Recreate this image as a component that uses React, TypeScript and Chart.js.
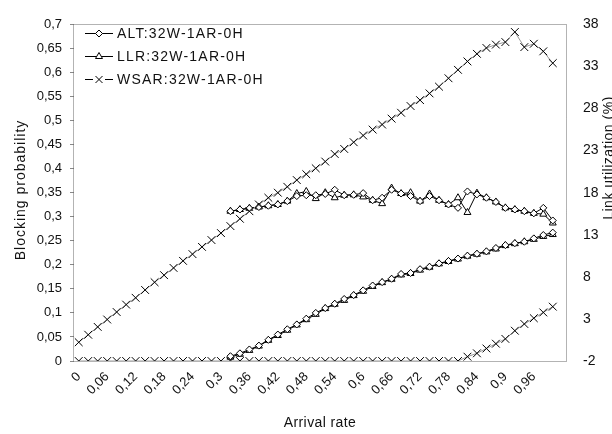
import React, { useEffect, useRef } from 'react';
import { Chart, registerables } from 'chart.js';

Chart.register(...registerables);

const categories = ['0','0,02','0,04','0,06','0,08','0,1','0,12','0,14','0,16','0,18','0,2','0,22','0,24','0,26','0,28','0,3','0,32','0,34','0,36','0,38','0,4','0,42','0,44','0,46','0,48','0,5','0,52','0,54','0,56','0,58','0,6','0,62','0,64','0,66','0,68','0,7','0,72','0,74','0,76','0,78','0,8','0,82','0,84','0,86','0,88','0,9','0,92','0,94','0,96','0,98','1',''];

const N16 = [null,null,null,null,null,null,null,null,null,null,null,null,null,null,null,null];

const altBlocking = [...N16, 0.010,0.016,0.024,0.032,0.044,0.055,0.066,0.076,0.088,0.100,0.110,0.119,0.129,0.137,0.147,0.157,0.164,0.171,0.181,0.183,0.191,0.196,0.203,0.208,0.213,0.219,0.223,0.228,0.235,0.241,0.245,0.248,0.255,0.262,0.267];
const llrBlocking = [...N16, 0.008,0.014,0.022,0.031,0.043,0.053,0.064,0.075,0.086,0.097,0.109,0.118,0.126,0.136,0.145,0.155,0.163,0.170,0.179,0.182,0.189,0.195,0.202,0.207,0.212,0.218,0.222,0.227,0.233,0.240,0.244,0.248,0.253,0.259,0.263];
const wsarBlocking = [0,0,0,0,0,0,0,0,0,0,0,0,0,0,0,0,0,0,0,0,0,0,0,0,0,0,0,0,0,0,0,0,0,0,0,0,0,0,0,0,0,0.009,0.016,0.026,0.036,0.046,0.063,0.077,0.089,0.101,0.113];

const altUtil = [...N16, 15.8,16.0,16.15,16.3,16.45,16.6,17.0,17.6,17.7,17.7,17.85,18.35,17.7,17.75,17.95,17.1,17.4,18.35,17.9,17.6,17.0,17.6,17.1,16.6,16.2,18.15,17.8,17.4,16.9,16.2,16.0,15.8,15.55,16.2,14.7];
const llrUtil = [...N16, 15.8,16.0,16.15,16.3,16.45,16.6,17.0,17.9,18.15,17.3,18.0,17.4,17.7,17.75,17.5,17.1,16.7,18.55,17.9,18.0,17.0,17.85,17.1,16.6,17.4,15.65,17.95,17.4,16.9,16.2,16.0,15.8,15.55,15.45,14.4];
const wsarUtil = [0.23,1.12,2.05,2.93,3.82,4.7,5.51,6.44,7.36,8.2,9.06,9.9,10.7,11.56,12.37,13.2,14.03,14.9,15.8,16.6,17.4,18.0,18.7,19.5,20.2,20.9,21.7,22.6,23.2,24.0,24.8,25.5,26.1,26.8,27.5,28.3,29.0,29.8,30.6,31.6,32.6,33.6,34.5,35.2,35.6,35.9,37.1,35.3,35.7,34.8,33.4];

const legendLabels = ['ALT:32W-1AR-0H', 'LLR:32W-1AR-0H', 'WSAR:32W-1AR-0H'];

const FONT = '"Liberation Sans", Arial, sans-serif';

function marker(ctx: CanvasRenderingContext2D, kind: string, x: number, y: number) {
  ctx.beginPath();
  if (kind === 'diamond') {
    ctx.moveTo(x, y - 3.5); ctx.lineTo(x + 3.5, y); ctx.lineTo(x, y + 3.5); ctx.lineTo(x - 3.5, y); ctx.closePath();
    ctx.fillStyle = '#fff'; ctx.fill(); ctx.stroke();
  } else if (kind === 'triangle') {
    ctx.moveTo(x, y - 4); ctx.lineTo(x + 3.5, y + 2); ctx.lineTo(x - 3.5, y + 2); ctx.closePath();
    ctx.fillStyle = '#fff'; ctx.fill(); ctx.stroke();
  } else {
    ctx.moveTo(x - 3.5, y - 3.5); ctx.lineTo(x + 3.5, y + 3.5);
    ctx.moveTo(x + 3.5, y - 3.5); ctx.lineTo(x - 3.5, y + 3.5);
    ctx.stroke();
  }
}

function spaced(ctx: any, px: string) {
  try { ctx.letterSpacing = px; } catch (e) { /* ignore */ }
}

const decor = {
  id: 'decor',
  afterDraw(chart: any) {
    const { ctx, chartArea: a } = chart;
    ctx.save();
    ctx.strokeStyle = '#666';
    ctx.lineWidth = 1;
    ctx.setLineDash([1, 1]);
    ctx.strokeRect(Math.round(a.left) - 0.5, Math.round(a.top) + 0.5, Math.round(a.right - a.left), Math.round(a.bottom - a.top));
    ctx.setLineDash([]);

    ctx.fillStyle = '#111';
    ctx.font = '14px ' + FONT;
    ctx.textAlign = 'center';
    ctx.textBaseline = 'middle';
    spaced(ctx, '1px');
    ctx.save(); ctx.translate(21, 190); ctx.rotate(-Math.PI / 2); ctx.fillText('Blocking probability', 0, 0); ctx.restore();
    spaced(ctx, '0.5px');
    ctx.save(); ctx.translate(609, 158); ctx.rotate(-Math.PI / 2); ctx.fillText('Link utilization (%)', 0, 0); ctx.restore();
    spaced(ctx, '0.4px');
    ctx.fillText('Arrival rate', 320, 423);

    const kinds = ['diamond', 'triangle', 'cross'];
    const ys = [33, 56, 79];
    ctx.textAlign = 'left';
    ctx.font = '14px ' + FONT;
    spaced(ctx, '1.2px');
    for (let k = 0; k < 3; k++) {
      const y = ys[k] + 0.5;
      ctx.strokeStyle = '#000';
      ctx.lineWidth = 1;
      ctx.beginPath();
      if (k === 2) {
        ctx.moveTo(85, y); ctx.lineTo(93, y); ctx.moveTo(105, y); ctx.lineTo(113, y);
      } else {
        ctx.moveTo(85, y); ctx.lineTo(113, y);
      }
      ctx.stroke();
      marker(ctx, kinds[k], 99, y);
      ctx.fillStyle = '#111';
      ctx.fillText(legendLabels[k], 117, ys[k] + 1);
    }
    ctx.restore();
  },
};

function fmtComma(v: number) {
  const r = Math.round(v * 100) / 100;
  return String(r).replace('.', ',');
}

export default function App() {
  const ref = useRef<HTMLCanvasElement | null>(null);
  useEffect(() => {
    if (!ref.current) return;
    const black = '#000';
    const common = { borderWidth: 1, pointBorderWidth: 1, pointBackgroundColor: '#fff', tension: 0, spanGaps: false };
    const chart = new Chart(ref.current, {
      type: 'line',
      data: {
        labels: categories,
        datasets: [
          { label: 'WSAR util', data: wsarUtil, yAxisID: 'y2', borderColor: '#999', pointBorderColor: black, pointStyle: 'crossRot', pointRadius: 5.5, ...common },
          { label: 'WSAR blocking', data: wsarBlocking, yAxisID: 'y', borderColor: '#999', pointBorderColor: black, pointStyle: 'crossRot', pointRadius: 5.5, ...common },
          { label: 'ALT util', data: altUtil, yAxisID: 'y2', borderColor: black, pointBorderColor: black, pointStyle: 'rectRot', pointRadius: 3.5, ...common },
          { label: 'LLR util', data: llrUtil, yAxisID: 'y2', borderColor: black, pointBorderColor: black, pointStyle: 'triangle', pointRadius: 4, ...common },
          { label: 'ALT blocking', data: altBlocking, yAxisID: 'y', borderColor: black, pointBorderColor: black, pointStyle: 'rectRot', pointRadius: 3.5, ...common },
          { label: 'LLR blocking', data: llrBlocking, yAxisID: 'y', borderColor: black, pointBorderColor: black, pointStyle: 'triangle', pointRadius: 4, ...common },
        ],
      },
      options: {
        animation: false,
        responsive: false,
        maintainAspectRatio: false,
        layout: { padding: { top: 15, left: 0, right: 0, bottom: 0 } },
        plugins: { legend: { display: false }, tooltip: { enabled: false }, title: { display: false } },
        scales: {
          x: {
            type: 'category',
            offset: true,
            grid: { display: false, drawTicks: false },
            border: { display: false },
            ticks: {
              autoSkip: false,
              minRotation: 45,
              maxRotation: 45,
              padding: 8,
              color: '#111',
              font: { family: FONT, size: 13 },
              callback: (_v: any, i: number) => (i % 3 === 0 ? categories[i] : ''),
            },
            afterFit: (s: any) => { s.height = 73; },
          },
          y: {
            position: 'left',
            min: 0,
            max: 0.7,
            grid: { display: true, drawOnChartArea: false, drawTicks: true, tickLength: 4, color: '#888' },
            border: { display: false },
            ticks: {
              stepSize: 0.05,
              maxTicksLimit: 100,
              padding: 8,
              color: '#111',
              font: { family: FONT, size: 13 },
              callback: (v: any) => fmtComma(Number(v)),
            },
            afterFit: (s: any) => { s.width = 74; },
          },
          y2: {
            position: 'right',
            min: -2,
            max: 38,
            grid: { display: false, drawTicks: false },
            border: { display: false },
            ticks: {
              stepSize: 5,
              maxTicksLimit: 100,
              padding: 16,
              color: '#111',
              font: { family: FONT, size: 14 },
            },
            afterFit: (s: any) => { s.width = 45; },
          },
        },
      },
      plugins: [decor],
    } as any);
    return () => chart.destroy();
  }, []);
  return (
    <div style={{ position: 'fixed', left: 0, top: 0, width: 612, height: 434, background: '#fff' }}>
      <canvas ref={ref} width={612} height={434} style={{ width: 612, height: 434, display: 'block' }} />
    </div>
  );
}
